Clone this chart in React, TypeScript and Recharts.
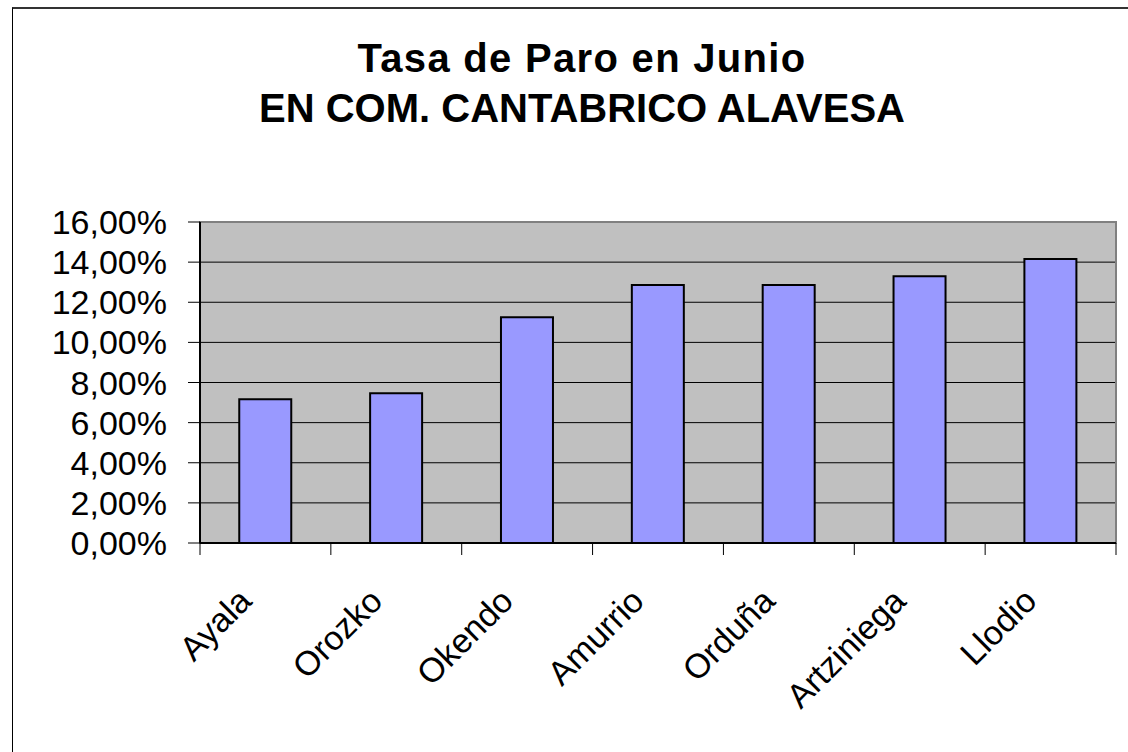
import React from 'react';
import {
  BarChart,
  Bar,
  XAxis,
  YAxis,
  CartesianGrid,
  ReferenceArea,
} from 'recharts';

// municipios de la comarca
const municipios = ['Ayala', 'Orozko', 'Okendo', 'Amurrio', 'Orduña', 'Artziniega', 'Llodio'];
// tasa de paro en junio (%)
const tasaParo = [7.17, 7.47, 11.25, 12.86, 12.86, 13.29, 14.16];
const yTicks = [0, 2, 4, 6, 8, 10, 12, 14, 16];

const data = municipios.map((name, i) => ({ name, tasa: tasaParo[i] }));

const FONT = '"Liberation Sans", Arial, sans-serif';

const fmtPct = (v: number) => `${v.toFixed(2).replace('.', ',')}%`;

// etiqueta girada + marcas de separación entre categorías
const XTick = (props: any) => {
  const { x, y, payload, index, visibleTicksCount } = props;
  const half = payload && typeof payload.offset === 'number' ? payload.offset : 0;
  const isLast = index === visibleTicksCount - 1;
  return (
    <g>
      {half > 0 && <line x1={x - half} y1={y} x2={x - half} y2={y + 12} stroke="#000" strokeWidth={1} />}
      {half > 0 && isLast && <line x1={x + half} y1={y} x2={x + half} y2={y + 12} stroke="#000" strokeWidth={1} />}
      <g transform={`translate(${x - 12},${y + 60})`}>
        <text
          x={0}
          y={0}
          textAnchor="end"
          transform="rotate(-45)"
          fontFamily={FONT}
          fontSize={34}
          fill="#000"
        >
          {payload.value}
        </text>
      </g>
    </g>
  );
};

const App: React.FC = () => {
  return (
    <div style={{ position: 'absolute', left: 0, top: 0, width: 1128, height: 752, background: '#fff', overflow: 'hidden' }}>
      {/* marco del gráfico */}
      <div
        style={{
          position: 'absolute',
          left: 12,
          top: 7,
          width: 1200,
          height: 800,
          borderLeft: '1px solid #000',
          borderTop: '2px solid #333',
        }}
      />
      <div
        style={{
          position: 'absolute',
          left: 582,
          top: 33,
          transform: 'translateX(-50%)',
          whiteSpace: 'nowrap',
          textAlign: 'center',
          fontFamily: FONT,
          fontWeight: 'bold',
          fontSize: 40,
          lineHeight: '50px',
          color: '#000',
        }}
      >
        <div style={{ letterSpacing: 1.3 }}>Tasa de Paro en Junio</div>
        <div>EN COM. CANTABRICO ALAVESA</div>
      </div>
      <div style={{ position: 'absolute', left: 0, top: 0 }}>
        <BarChart
          width={1128}
          height={752}
          data={data}
          margin={{ top: 222, right: 12, bottom: 0, left: 0 }}
          barCategoryGap="30%"
        >
          <CartesianGrid vertical={false} stroke="#000" fill="#c0c0c0" fillOpacity={1} />
          <ReferenceArea
            y1={0}
            y2={16}
            fill="none"
            stroke="#808080"
            strokeWidth={2}
            ifOverflow="extendDomain"
          />
          <XAxis
            dataKey="name"
            height={209}
            tickSize={0}
            tickMargin={0}
            tickLine={false}
            axisLine={{ stroke: '#000', strokeWidth: 2 }}
            interval={0}
            tick={<XTick />}
          />
          <YAxis
            width={200}
            domain={[0, 16]}
            ticks={yTicks}
            tickFormatter={fmtPct}
            tickSize={12}
            tickMargin={21}
            stroke="#000"
            axisLine={{ stroke: '#000', strokeWidth: 2 }}
            tick={{ fontFamily: FONT, fontSize: 34, fill: '#000' }}
            interval={0}
          />
          <Bar
            dataKey="tasa"
            fill="#9999ff"
            stroke="#000"
            strokeWidth={2}
            isAnimationActive={false}
          />
        </BarChart>
      </div>
    </div>
  );
};

export default App;
